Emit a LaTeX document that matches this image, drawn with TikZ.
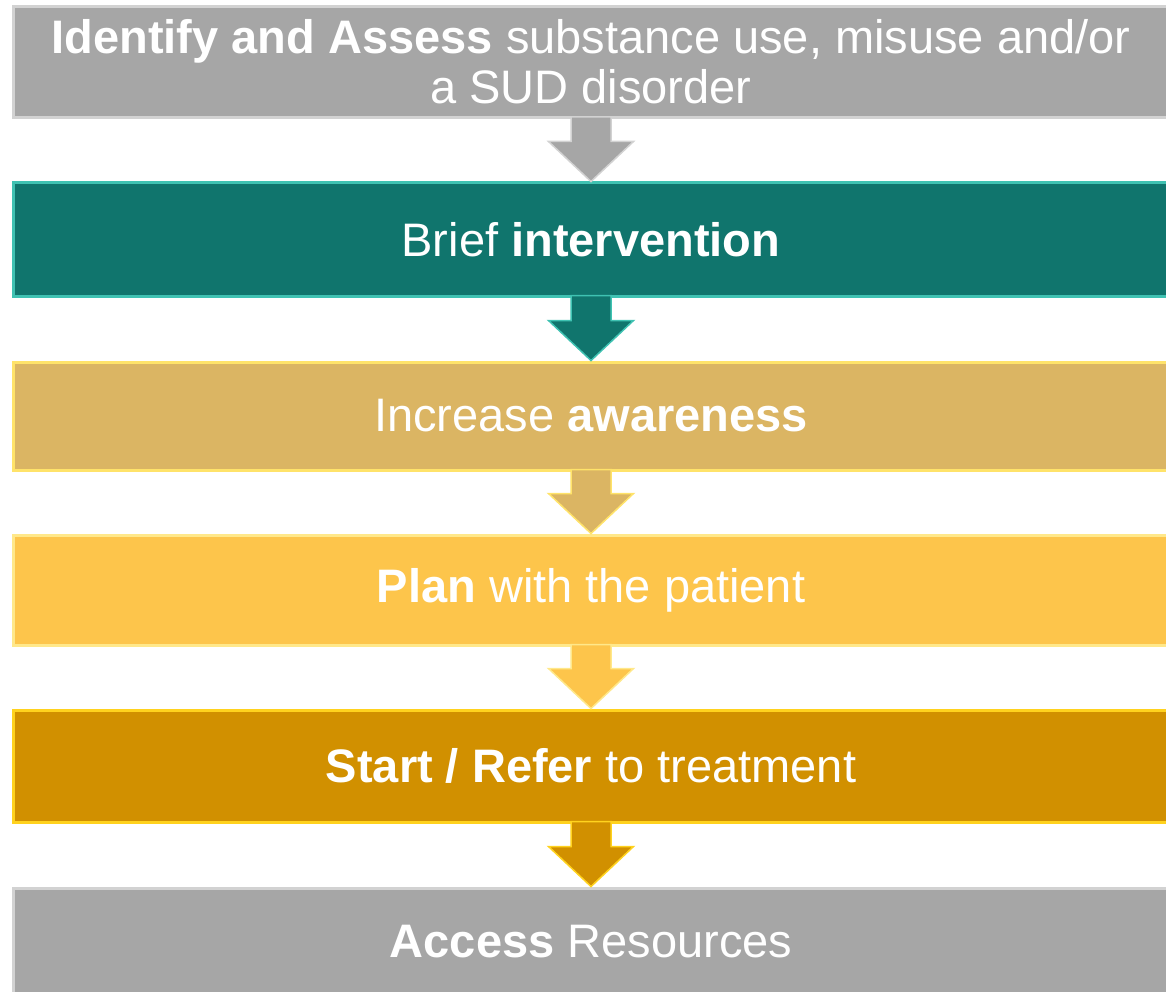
\documentclass[tikz,border=0pt]{standalone}
\usepackage{fontspec}
\setmainfont{Liberation Sans}
\usetikzlibrary{calc}

\definecolor{greyfill}{HTML}{A6A6A6}
\definecolor{greyedge}{HTML}{D2D2D2}
\definecolor{tealfill}{HTML}{10756D}
\definecolor{tealedge}{HTML}{3FC2B2}
\definecolor{tanfill}{HTML}{DBB563}
\definecolor{tanedge}{HTML}{FFE36A}
\definecolor{yellowfill}{HTML}{FDC54B}
\definecolor{yellowedge}{HTML}{FFE88A}
\definecolor{goldfill}{HTML}{D19000}
\definecolor{goldedge}{HTML}{FFD21E}

\tikzset{
  stage/.style={rectangle, inner sep=0pt, minimum width=1156pt,
    text=white, align=center, line width=3pt,
    font=\fontsize{47}{50}\selectfont},
}

% block arrow from the bottom of one stage to the top of the next
\newcommand\flowarrow[4]{%
  \filldraw[fill=#3, draw=#4, line width=1.5pt, line join=miter]
    ($(#1.south)+(-20,-2)$) -- ($(#1.south)+(20,-2)$)
    -- ($(#2.north)+(20,-40)$) -- ($(#2.north)+(42.5,-40)$)
    -- (#2.north)
    -- ($(#2.north)+(-42.5,-40)$) -- ($(#2.north)+(-20,-40)$) -- cycle;}

\begin{document}
\begin{tikzpicture}[x=1pt,y=-1pt]
\useasboundingbox[fill=white] (0,0) rectangle (1166,992);

\node[stage, fill=greyfill, draw=greyedge, minimum height=111pt] (s1) at (591,62)
  {\textbf{Identify and Assess} substance use, misuse and/or\\a SUD disorder};
\node[stage, fill=tealfill, draw=tealedge, minimum height=113pt] (s2) at (591,239.5)
  {Brief \textbf{intervention}};
\node[stage, fill=tanfill, draw=tanedge, minimum height=108pt] (s3) at (591,416)
  {Increase \textbf{awareness}};
\node[stage, fill=yellowfill, draw=yellowedge, minimum height=110pt] (s4) at (591,590)
  {\textbf{Plan} with the patient};
\node[stage, fill=goldfill, draw=goldedge, minimum height=112pt] (s5) at (591,766)
  {\textbf{Start / Refer} to treatment};
\node[stage, fill=greyfill, draw=greyedge, minimum height=108pt] (s6) at (591,942)
  {\textbf{Access} Resources};

\flowarrow{s1}{s2}{greyfill}{greyedge}
\flowarrow{s2}{s3}{tealfill}{tealedge}
\flowarrow{s3}{s4}{tanfill}{tanedge}
\flowarrow{s4}{s5}{yellowfill}{yellowedge}
\flowarrow{s5}{s6}{goldfill}{goldedge}
\end{tikzpicture}
\end{document}
